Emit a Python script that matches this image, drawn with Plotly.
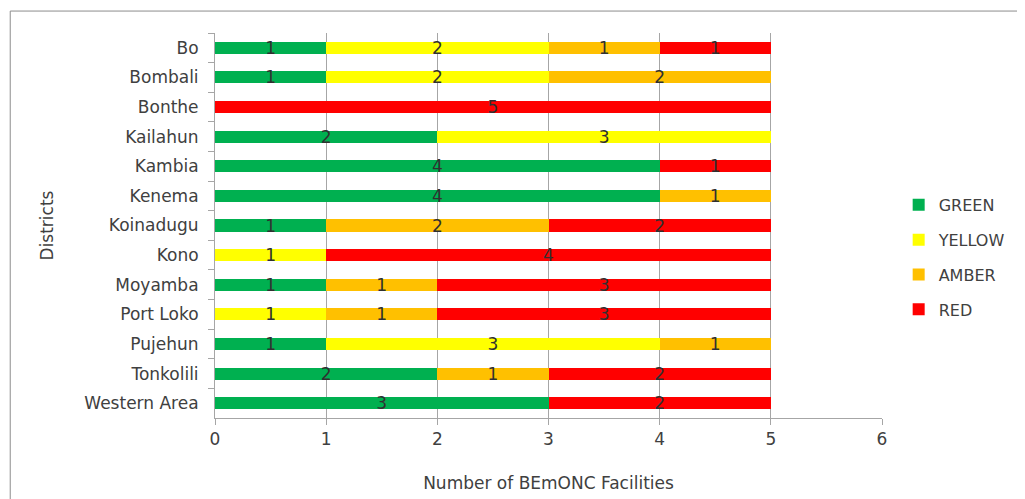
import plotly.graph_objects as go

districts = ["Bo", "Bombali", "Bonthe", "Kailahun", "Kambia", "Kenema", "Koinadugu",
             "Kono", "Moyamba", "Port Loko", "Pujehun", "Tonkolili", "Western Area"]
green  = [1, 1, 0, 2, 4, 4, 1, 0, 1, 0, 1, 2, 3]
yellow = [2, 2, 0, 3, 0, 0, 0, 1, 0, 1, 3, 0, 0]
amber  = [1, 2, 0, 0, 0, 1, 2, 0, 1, 1, 1, 1, 0]
red    = [1, 0, 5, 0, 1, 0, 2, 4, 3, 3, 0, 2, 2]
x_ticks = [0, 1, 2, 3, 4, 5, 6]

series = [("GREEN", green, "#00B050"), ("YELLOW", yellow, "#FFFF00"),
          ("AMBER", amber, "#FFC000"), ("RED", red, "#FF0000")]

FONT = "DejaVu Sans"
fig = go.Figure()
for i, (name, vals, col) in enumerate(series):
    fig.add_trace(go.Bar(
        y=districts, x=vals, name=name, orientation="h",
        marker=dict(color=col, line=dict(width=0)),
        text=[str(v) if v else "" for v in vals],
        textposition="inside", insidetextanchor="middle", constraintext="none",
        textangle=0,
        textfont=dict(family=FONT, size=17, color="#303030"),
        legendgroup=name, hoverinfo="x+y+name",
    ))

fig.update_layout(
    width=1017, height=491, barmode="stack", bargap=0.59,
    paper_bgcolor="white", plot_bgcolor="white",
    margin=dict(l=207, r=143, t=25, b=81, autoexpand=False),
    font=dict(family=FONT, size=17, color="#404040"),
    legend=dict(x=1.025, y=0.417, yanchor="middle", xanchor="left", itemwidth=30,
                traceorder="grouped", tracegroupgap=11,
                font=dict(family=FONT, size=16, color="#404040")),
    xaxis=dict(range=[0, 6], tickvals=x_ticks, showgrid=True, gridcolor="#A6A6A6", gridwidth=1,
               showline=True, linecolor="#A6A6A6", ticks="outside", ticklen=6, tickcolor="#A6A6A6",
               zeroline=False, tickfont=dict(size=17), automargin=False,
               title=dict(text="Number of BEmONC Facilities", standoff=28, font=dict(size=17))),
    yaxis=dict(autorange="reversed", showline=True, linecolor="#A6A6A6", ticks="outside",
               ticklen=6, tickcolor="#A6A6A6", tickson="boundaries", showgrid=False,
               tickfont=dict(size=17), ticklabelstandoff=12, automargin=False,
               title=dict(text="Districts", standoff=26, font=dict(size=17))),
    shapes=[dict(type="rect", xref="paper", yref="paper", x0=-0.307, x1=1.4, y0=-0.4, y1=1.057,
                 line=dict(color="#8C8C8C", width=1), fillcolor="rgba(0,0,0,0)", layer="below")],
)
fig.write_html("out.html")
